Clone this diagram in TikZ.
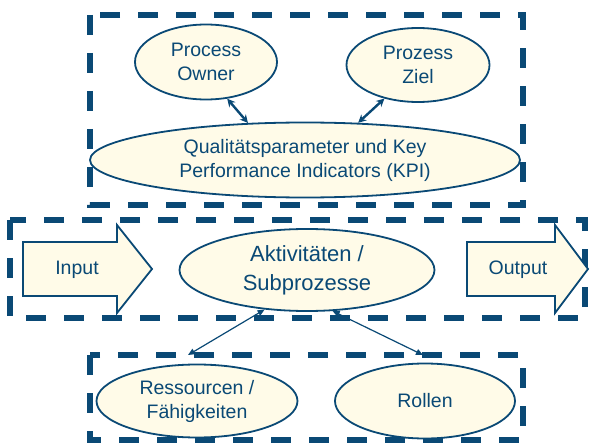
\documentclass[tikz,border=0pt]{standalone}
\usepackage{fontspec}
\setmainfont{Liberation Sans}
\usetikzlibrary{shapes.geometric,arrows.meta}
\definecolor{procblue}{RGB}{10,73,117}
\definecolor{proccream}{RGB}{255,251,232}

\begin{document}
\begin{tikzpicture}[x=1pt, y=-1pt,
    zone/.style={procblue, line width=5.5pt, dash pattern=on 20pt off 18pt},
    bubble/.style={ellipse, draw=procblue, line width=1.8pt, fill=proccream,
        text=procblue, inner sep=0pt, align=center,
        font=\fontsize{19.5}{24}\selectfont},
    block/.style={draw=procblue, line width=1.8pt, fill=proccream, line join=miter},
    tag/.style={text=procblue, font=\fontsize{19.5}{24}\selectfont},
    link/.style={procblue, line width=2.4pt,
        {Stealth[length=8pt,width=8pt]}-{Stealth[length=8pt,width=8pt]}},
    thinlink/.style={procblue, line width=1.2pt,
        {Triangle[length=7pt,width=6pt]}-{Triangle[length=7pt,width=6pt]}}]
    \useasboundingbox (0,0) rectangle (590,444);

    % Dashed frames: steering, process, enablers
    \foreach \xa/\ya/\xb/\yb in {90/15/523/205, 10/220/585/318, 90/355/523/440} {
        \draw[zone] (\xa,\ya) rectangle (\xb,\yb);
    }

    % Steering level
    \node[bubble, minimum width=142pt, minimum height=75pt] (owner) at (206,62) {Process\\Owner};
    \node[bubble, minimum width=143pt, minimum height=74pt] (goal) at (418,65) {Prozess\\Ziel};
    \node[bubble, minimum width=430pt, minimum height=75pt] (kpi) at (305,160)
        {Qualitätsparameter und Key\\Performance Indicators (KPI)};

    % Process level with input and output
    \draw[block] (23,242) -- (117,242) -- (117,225) -- (152,269) -- (117,313) -- (117,296) -- (23,296) -- cycle;
    \node[tag] (input) at (77,270) {Input};
    \draw[block] (467,242) -- (555,242) -- (555,225) -- (588,269) -- (555,313) -- (555,296) -- (467,296) -- cycle;
    \node[tag] (output) at (518,270) {Output};
    \node[bubble, minimum width=255pt, minimum height=82pt,
        font=\fontsize{22}{29}\selectfont] (act) at (307,270) {Aktivitäten /\\Subprozesse};

    % Enablers
    \node[bubble, minimum width=201pt, minimum height=73pt] (res) at (197,401) {Ressourcen /\\Fähigkeiten};
    \node[bubble, minimum width=180pt, minimum height=75pt] (roles) at (425,401) {Rollen};

    % Connectors
    \draw[link] (owner.-60) -- (kpi.147);
    \draw[link] (goal.-135) -- (kpi.35);
    \coordinate (resTop) at (188,355);
    \coordinate (rolesTop) at (423,355);
    \draw[thinlink] (act.-137) -- (resTop);
    \draw[thinlink] (act.-58) -- (rolesTop);
\end{tikzpicture}
\end{document}
